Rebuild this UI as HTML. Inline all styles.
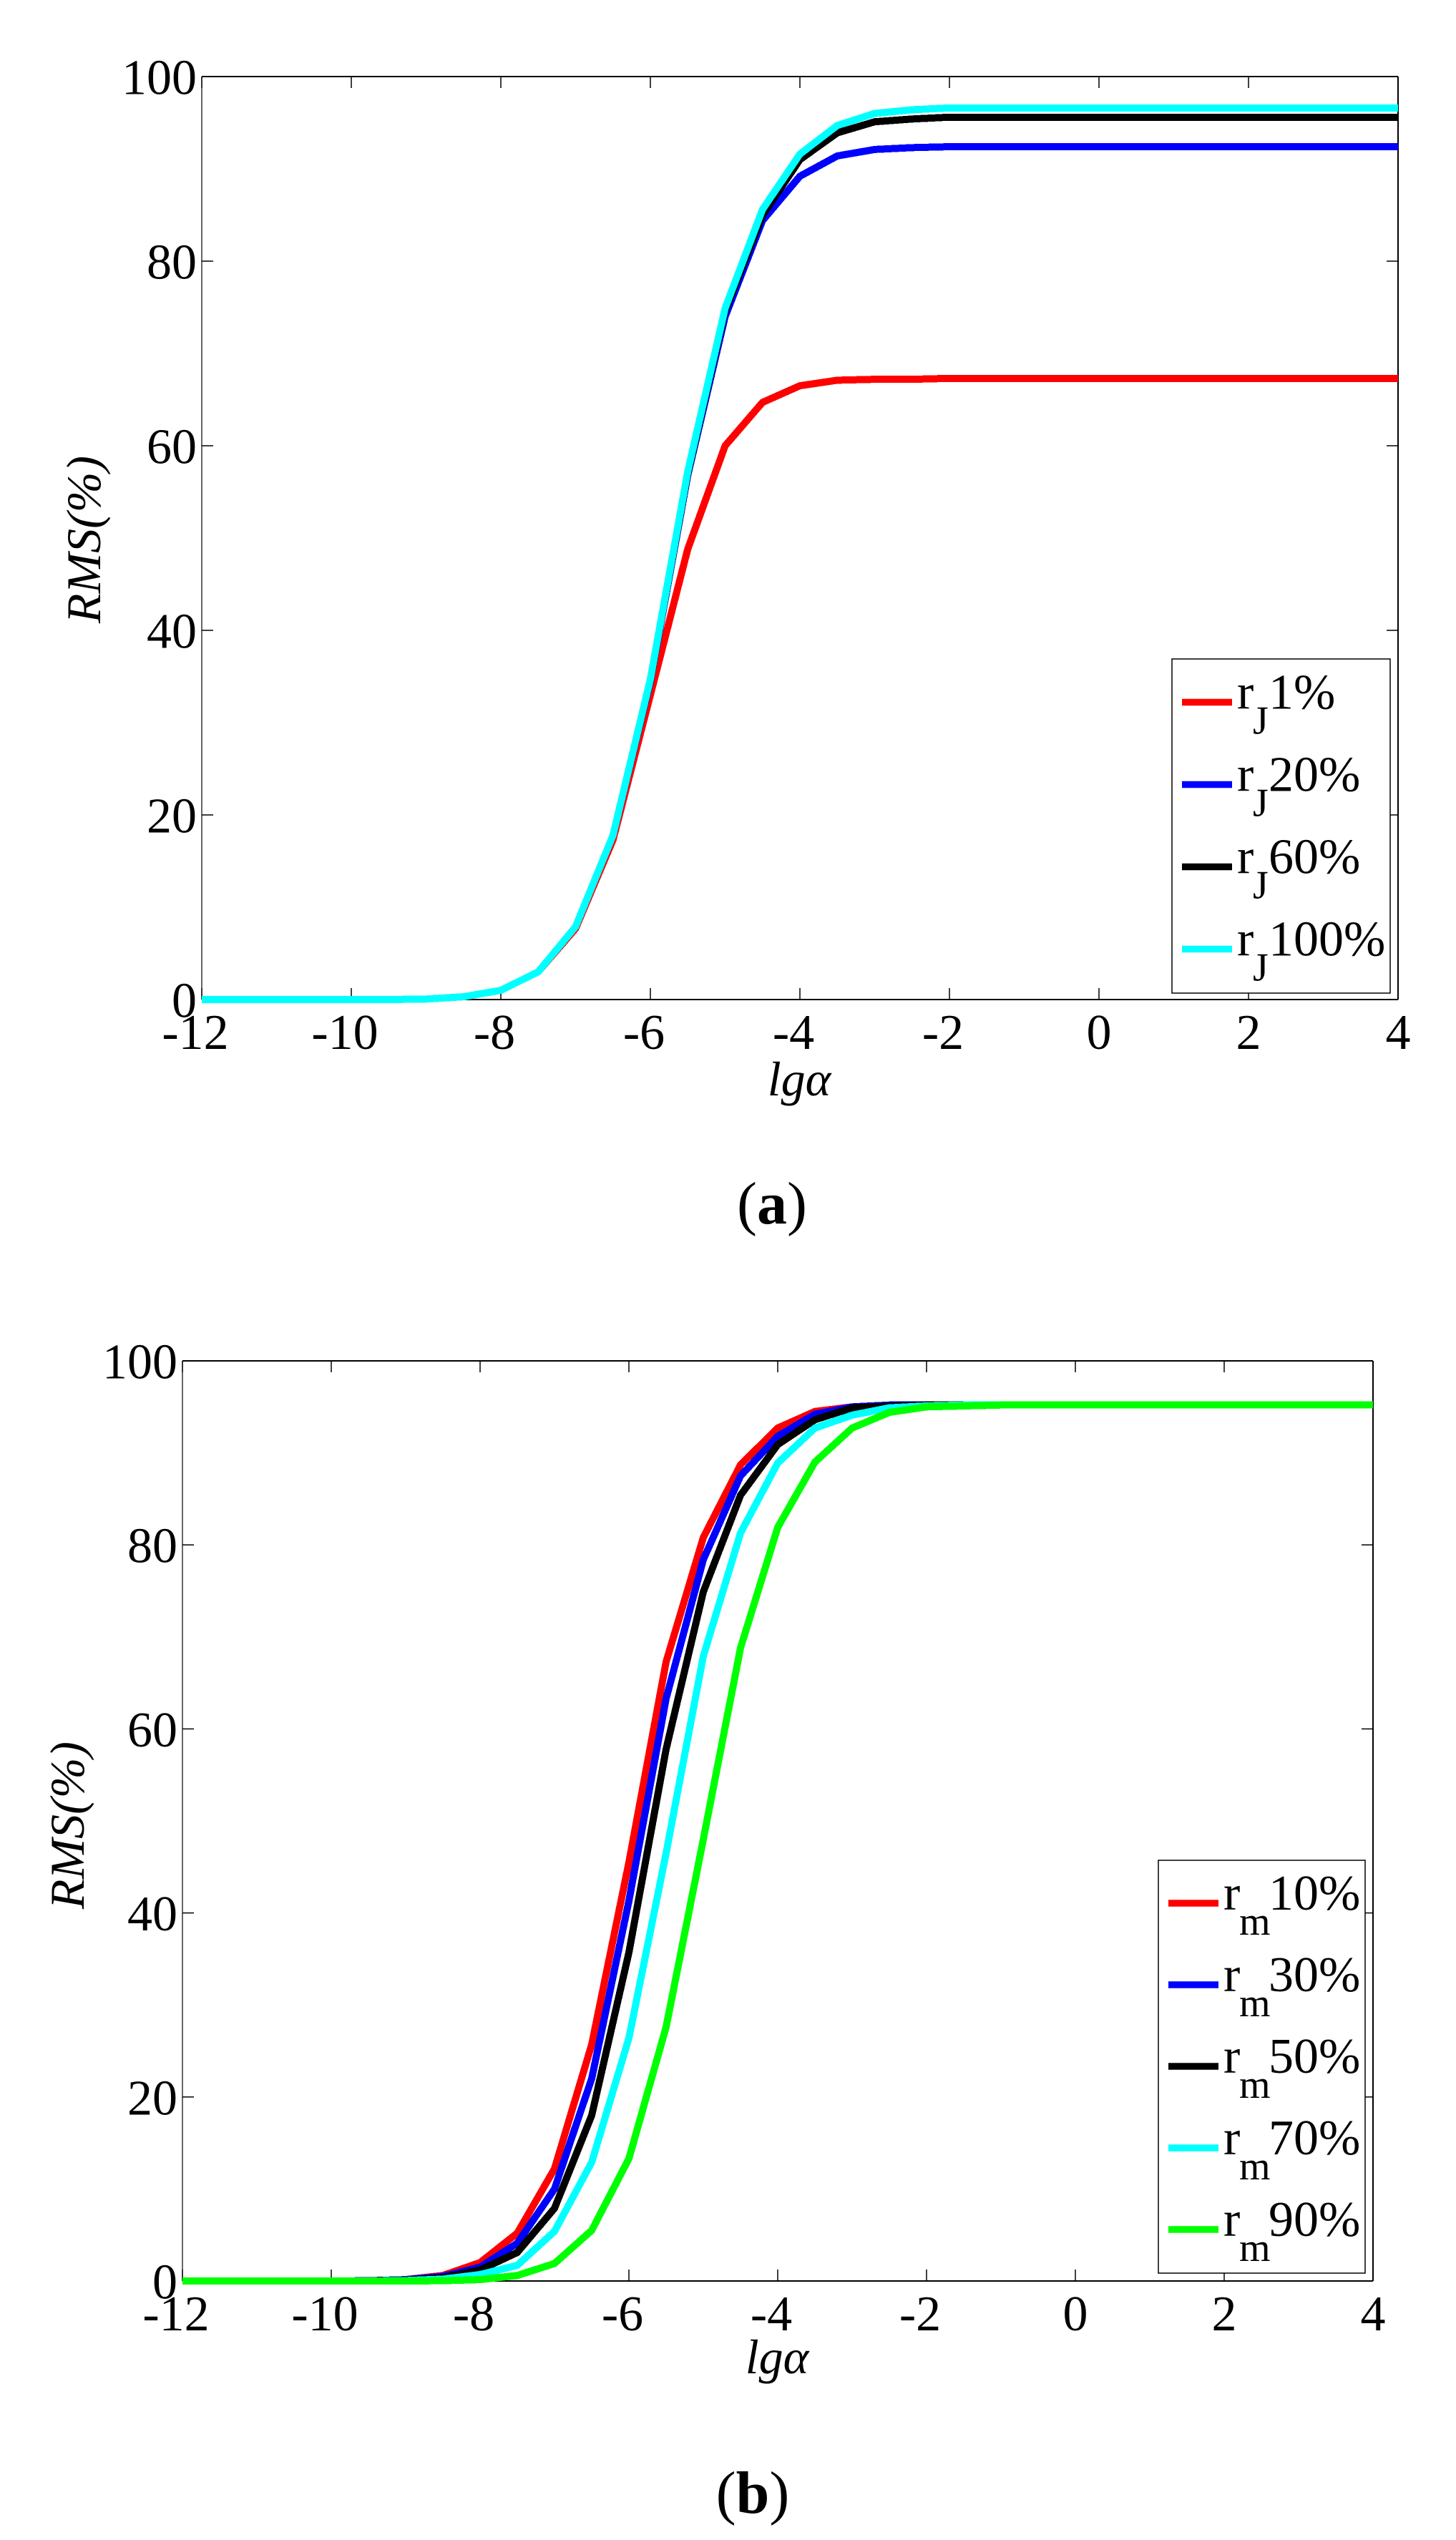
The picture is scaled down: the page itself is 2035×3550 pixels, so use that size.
<!DOCTYPE html>
<html lang="en">
<head>
<meta charset="utf-8">
<title>RMS versus lg alpha</title>
<style>
html,body{margin:0;padding:0;background:#fff;width:2035px;height:3550px;overflow:hidden}
svg{display:block}
text{font-family:"Liberation Serif","Times New Roman",serif;fill:#000}
</style>
</head>
<body>
<svg id="figure" xmlns="http://www.w3.org/2000/svg" width="2035" height="3550" viewBox="0 0 2035 3550">
<rect x="0" y="0" width="2035" height="3550" fill="#fff"/>
<text x="1079" y="1710" font-size="84" text-anchor="middle">(<tspan font-weight="bold">a</tspan>)</text>
<text x="1052" y="3512" font-size="84" text-anchor="middle">(<tspan font-weight="bold">b</tspan>)</text>
</svg>
<script>
var lgAlpha = [-12,-11.5,-11,-10.5,-10,-9.5,-9,-8.5,-8,-7.5,-7,-6.5,-6,-5.5,-5,-4.5,-4,-3.5,-3,-2.5,-2,-1.5,-1,-0.5,0,0.5,1,1.5,2,2.5,3,3.5,4];
var xTickValues = [-12,-10,-8,-6,-4,-2,0,2,4];
var yTickValues = [0,20,40,60,80,100];

var rJ1 = [0,0,0,0,0,0,0.05,0.3,1,3,7.7,17.3,33,48.8,60,64.7,66.5,67.1,67.2,67.2,67.3,67.3,67.3,67.3,67.3,67.3,67.3,67.3,67.3,67.3,67.3,67.3,67.3];
var rJ20 = [0,0,0,0,0,0,0.05,0.3,1,3,7.9,17.8,34.5,56.8,74,84.4,89.2,91.4,92.1,92.3,92.4,92.4,92.4,92.4,92.4,92.4,92.4,92.4,92.4,92.4,92.4,92.4,92.4];
var rJ60 = [0,0,0,0,0,0,0.05,0.3,1,3,7.9,17.8,34.6,57,74.6,85,91,93.9,95.1,95.4,95.6,95.6,95.6,95.6,95.6,95.6,95.6,95.6,95.6,95.6,95.6,95.6,95.6];
var rJ100 = [0,0,0,0,0,0,0.05,0.3,1,3,7.9,17.8,34.7,57.2,74.9,85.6,91.6,94.7,96,96.4,96.6,96.6,96.6,96.6,96.6,96.6,96.6,96.6,96.6,96.6,96.6,96.6,96.6];

var rM10 = [0,0,0,0,0,0.03,0.15,0.6,2,5.2,12.2,25.7,45.5,67.3,80.8,88.7,92.7,94.5,95,95.2,95.2,95.2,95.2,95.2,95.2,95.2,95.2,95.2,95.2,95.2,95.2,95.2,95.2];
var rM30 = [0,0,0,0,0,0.03,0.15,0.5,1.5,4.1,10,22,41.3,63.3,78.4,87.5,91.8,94.2,95,95.2,95.2,95.2,95.2,95.2,95.2,95.2,95.2,95.2,95.2,95.2,95.2,95.2,95.2];
var rM50 = [0,0,0,0,0,0,0.1,0.35,1.2,3.1,7.9,18,35.7,57.8,74.9,85.4,90.9,93.6,94.9,95.1,95.2,95.2,95.2,95.2,95.2,95.2,95.2,95.2,95.2,95.2,95.2,95.2,95.2];
var rM70 = [0,0,0,0,0,0,0.05,0.2,0.7,1.7,5.4,12.9,26.4,46.5,67.9,81.3,88.9,92.7,94.1,94.9,95.1,95.2,95.2,95.2,95.2,95.2,95.2,95.2,95.2,95.2,95.2,95.2,95.2];
var rM90 = [0,0,0,0,0,0,0,0.03,0.15,0.6,1.9,5.5,13.3,27.6,48,68.8,81.9,89,92.7,94.4,95,95.1,95.2,95.2,95.2,95.2,95.2,95.2,95.2,95.2,95.2,95.2,95.2];

var svgNS = 'http://www.w3.org/2000/svg';
var figure = document.getElementById('figure');

function make(tag, attrs, parent) {
  var el = document.createElementNS(svgNS, tag);
  for (var k in attrs) el.setAttribute(k, attrs[k]);
  parent.appendChild(el);
  return el;
}

function drawChart(id, box, series, legend, labels) {
  var g = make('g', {}, figure);
  
  

  function sx(v) { return box.left + (v + 12) / 16 * (box.right - box.left); }
  function sy(v) { return box.bottom - v / 100 * (box.bottom - box.top); }

  var tickLen = 16;
  xTickValues.forEach(function (v) {
    var t1 = make('line', {x1: sx(v), x2: sx(v), y1: box.bottom, y2: box.bottom - tickLen, stroke: '#000', 'stroke-width': 1.5}, g);
    
    
    var t2 = make('line', {x1: sx(v), x2: sx(v), y1: box.top, y2: box.top + tickLen, stroke: '#000', 'stroke-width': 1.5}, g);
    
    
    var label = make('text', {x: sx(v) - (v < 0 ? 9 : 0), y: box.bottom + labels.xTickDy, 'font-size': 70, 'text-anchor': 'middle'}, g);
    
    
    label.textContent = String(v);
  });
  yTickValues.forEach(function (v) {
    var t1 = make('line', {x1: box.left, x2: box.left + tickLen, y1: sy(v), y2: sy(v), stroke: '#000', 'stroke-width': 1.5}, g);
    
    
    var t2 = make('line', {x1: box.right, x2: box.right - tickLen, y1: sy(v), y2: sy(v), stroke: '#000', 'stroke-width': 1.5}, g);
    
    
    var label = make('text', {x: box.left - 7, y: sy(v) + 24.5, 'font-size': 70, 'text-anchor': 'end'}, g);
    
    
    label.textContent = String(v);
  });

  var frame = [
    {name: 'axis-top', x1: box.left, y1: box.top, x2: box.right, y2: box.top, w: 2},
    {name: 'axis-bottom', x1: box.left, y1: box.bottom, x2: box.right, y2: box.bottom, w: 2},
    {name: 'axis-left', x1: box.left, y1: box.top, x2: box.left, y2: box.bottom, w: 1.2},
    {name: 'axis-right', x1: box.right, y1: box.top, x2: box.right, y2: box.bottom, w: 2}
  ];
  frame.forEach(function (f) {
    var ln = make('line', {x1: f.x1, y1: f.y1, x2: f.x2, y2: f.y2, stroke: '#000', 'stroke-width': f.w}, g);
    
    
  });

  series.forEach(function (s) {
    var pts = s.values.map(function (v, i) { return sx(lgAlpha[i]).toFixed(2) + ',' + sy(v).toFixed(2); }).join(' ');
    var pl = make('polyline', {points: pts, fill: 'none', stroke: s.color, 'stroke-width': 10, 'stroke-linejoin': 'miter', 'shape-rendering': 'crispEdges'}, g);
    
    
  });

  var yTitle = make('text', {transform: 'translate(' + labels.yTitleX + ',' + labels.yTitleY + ') rotate(-90)', 'font-size': 68, 'font-style': 'italic', 'text-anchor': 'middle'}, g);
  
  
  yTitle.textContent = 'RMS(%)';

  var xTitle = make('text', {x: labels.xTitleX, y: labels.xTitleY, 'font-size': 68, 'font-style': 'italic', 'text-anchor': 'middle'}, g);
  
  
  xTitle.textContent = 'lgα';

  var lg = make('g', {}, g);
  
  
  var lgBox = make('rect', {x: legend.left, y: legend.top, width: legend.right - legend.left, height: legend.bottom - legend.top, fill: '#fff', stroke: '#000', 'stroke-width': 1.5}, lg);
  
  
  series.forEach(function (s, i) {
    var y = legend.rowY + i * legend.rowStep;
    var sw = make('line', {x1: legend.left + 14, x2: legend.left + 84, y1: y, y2: y, stroke: s.color, 'stroke-width': 9.5}, lg);
    
    
    var r = make('text', {x: legend.left + 91, y: y + 9, 'font-size': 70}, lg);
    
    
    r.textContent = 'r';
    var sub = make('text', {x: legend.left + 113, y: y + 44, 'font-size': 56}, lg);
    
    
    sub.textContent = legend.sub;
    var pct = make('text', {x: legend.left + legend.pctDx, y: y + 9, 'font-size': 70}, lg);
    
    
    pct.textContent = s.label;
  });
}

drawChart('a',
  {left: 282, right: 1954, top: 107, bottom: 1397},
  [
    {name: 'rj-1', label: '1%', color: '#ff0000', values: rJ1},
    {name: 'rj-20', label: '20%', color: '#0000ff', values: rJ20},
    {name: 'rj-60', label: '60%', color: '#000000', values: rJ60},
    {name: 'rj-100', label: '100%', color: '#00ffff', values: rJ100}
  ],
  {left: 1638, right: 1943, top: 921, bottom: 1388, rowY: 981.5, rowStep: 115, sub: 'J', pctDx: 135},
  {xTickDy: 69, yTitleX: 140, yTitleY: 754, xTitleX: 1117, xTitleY: 1531}
);

drawChart('b',
  {left: 255, right: 1919, top: 1902, bottom: 3188},
  [
    {name: 'rm-10', label: '10%', color: '#ff0000', values: rM10},
    {name: 'rm-30', label: '30%', color: '#0000ff', values: rM30},
    {name: 'rm-50', label: '50%', color: '#000000', values: rM50},
    {name: 'rm-70', label: '70%', color: '#00ffff', values: rM70},
    {name: 'rm-90', label: '90%', color: '#00ff00', values: rM90}
  ],
  {left: 1619, right: 1908, top: 2600, bottom: 3177, rowY: 2660, rowStep: 114, sub: 'm', pctDx: 154},
  {xTickDy: 69, yTitleX: 117, yTitleY: 2551, xTitleX: 1086, xTitleY: 3317}
);
</script>
</body>
</html>
